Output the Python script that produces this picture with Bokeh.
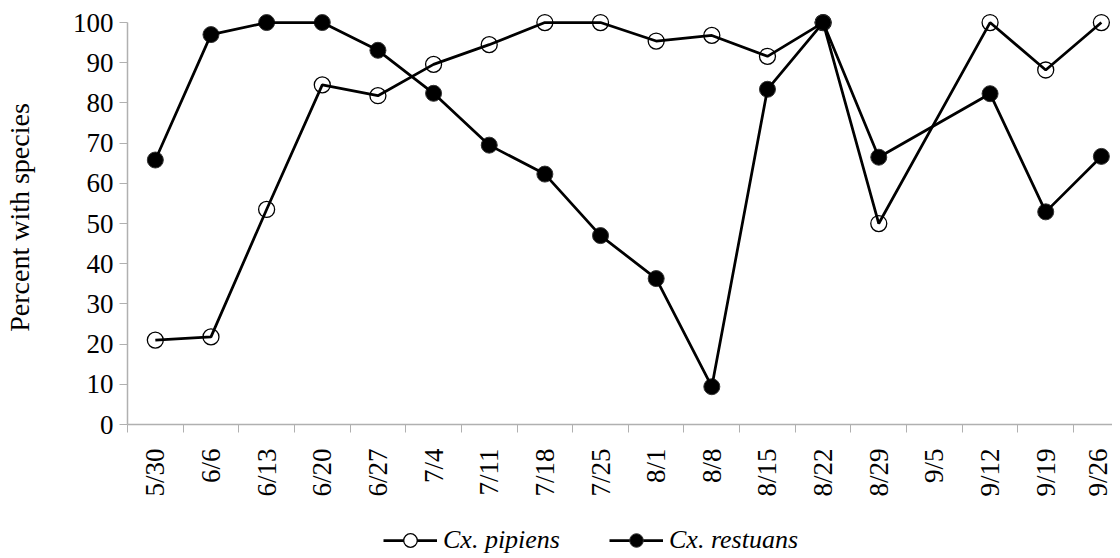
import math
from bokeh.plotting import figure
from bokeh.layouts import column
from bokeh.models import Range1d, FixedTicker, Legend, LegendItem
from bokeh.embed import file_html
from bokeh.resources import INLINE

dates = ["5/30", "6/6", "6/13", "6/20", "6/27", "7/4", "7/11", "7/18", "7/25",
         "8/1", "8/8", "8/15", "8/22", "8/29", "9/5", "9/12", "9/19", "9/26"]
pipiens = [21.0, 21.8, 53.5, 84.5, 81.8, 89.6, 94.5, 100, 100,
           95.4, 96.8, 91.6, 100, 50.0, None, 100, 88.2, 100]
restuans = [65.8, 97.0, 100, 100, 93.1, 82.4, 69.5, 62.3, 47.0,
            36.3, 9.4, 83.4, 100, 66.5, None, 82.3, 52.9, 66.7]
y_ticks = [0, 10, 20, 30, 40, 50, 60, 70, 80, 90, 100]
series_names = ["Cx. pipiens", "Cx. restuans"]
y_label = "Percent with species"

FONT = "Liberation Serif"
AXIS_GRAY = "#b0b0b0"
LINE_W = 2.75
NAN = float("nan")

def pts(vals):
    xs = [i for i, v in enumerate(vals) if v is not None]
    ys = [v for v in vals if v is not None]
    return xs, ys

p = figure(width=1112, height=499,
           x_range=Range1d(-0.5, 17.2), y_range=Range1d(0, 103),
           output_backend="svg", toolbar_location=None,
           min_border_left=126, min_border_right=0,
           min_border_top=10, min_border_bottom=71)
p.outline_line_color = None
p.xgrid.visible = False
p.ygrid.visible = False
p.background_fill_color = "white"
p.border_fill_color = "white"

xp, yp = pts(pipiens)
xr, yr = pts(restuans)

p.scatter(xp, yp, marker="circle", size=16, fill_color=None,
          line_color="black", line_width=1.3)
p.scatter(xr, yr, marker="circle", size=16, fill_color="black",
          line_color="#333333", line_width=1)
p.line(xp, yp, line_color="black", line_width=LINE_W)
p.line(xr, yr, line_color="black", line_width=LINE_W)

# x axis: labels at category centres, ticks between categories
xa = p.xaxis[0]
xa.ticker = FixedTicker(ticks=list(range(len(dates))),
                        minor_ticks=[i - 0.5 for i in range(len(dates) + 1)])
xa.major_label_overrides = {i: d for i, d in enumerate(dates)}
xa.major_label_orientation = math.pi / 2
xa.major_tick_out = 0
xa.major_tick_in = 0
xa.major_tick_line_color = None
xa.minor_tick_out = 8
xa.minor_tick_in = 0
xa.minor_tick_line_color = AXIS_GRAY
xa.axis_line_color = AXIS_GRAY
xa.axis_line_width = 1.5
xa.major_label_standoff = 16
xa.major_label_text_font = FONT
xa.major_label_text_font_size = "27px"
xa.major_label_text_color = "black"

# y axis
ya = p.yaxis[0]
ya.ticker = FixedTicker(ticks=y_ticks, minor_ticks=[])
ya.bounds = (0, 100)
ya.major_tick_out = 8
ya.major_tick_in = 0
ya.major_tick_line_color = AXIS_GRAY
ya.minor_tick_line_color = None
ya.axis_line_color = AXIS_GRAY
ya.axis_line_width = 1.5
ya.major_label_standoff = 6
ya.major_label_text_font = FONT
ya.major_label_text_font_size = "27px"
ya.major_label_text_color = "black"
ya.axis_label = y_label
ya.axis_label_text_font = FONT
ya.axis_label_text_font_size = "28px"
ya.axis_label_text_font_style = "normal"
ya.axis_label_text_color = "black"
ya.axis_label_standoff = 35

# legend strip below the chart
lg = figure(width=1112, height=58, x_range=Range1d(0, 1), y_range=Range1d(0, 1),
            x_axis_type=None, y_axis_type=None,
            output_backend="svg", toolbar_location=None,
            min_border_left=0, min_border_right=0,
            min_border_top=0, min_border_bottom=0)
lg.outline_line_color = None
lg.xgrid.visible = False
lg.ygrid.visible = False
lg.border_fill_color = "white"
lg.background_fill_color = "white"

# legend-only renderers (a single NaN point: nothing is drawn in the strip)
lp = lg.line(x=[NAN], y=[NAN], line_color="black", line_width=LINE_W)
sp = lg.scatter(x=[NAN], y=[NAN], marker="circle", fill_color="white",
                line_color="black", line_width=1.3)
lr = lg.line(x=[NAN], y=[NAN], line_color="black", line_width=LINE_W)
sr = lg.scatter(x=[NAN], y=[NAN], marker="circle", fill_color="black",
                line_color="#333333", line_width=1)

legend = Legend(items=[LegendItem(label=series_names[0], renderers=[lp, sp]),
                       LegendItem(label=series_names[1], renderers=[lr, sr])],
                location=(256, 0), orientation="horizontal",
                glyph_width=54, glyph_height=34, label_standoff=6, spacing=49,
                padding=0, margin=0, border_line_color=None,
                background_fill_alpha=0,
                label_text_font=FONT, label_text_font_style="italic",
                label_text_font_size="26px", label_text_color="black")
lg.add_layout(legend)

open("out.html", "w").write(file_html(column(p, lg), INLINE))
